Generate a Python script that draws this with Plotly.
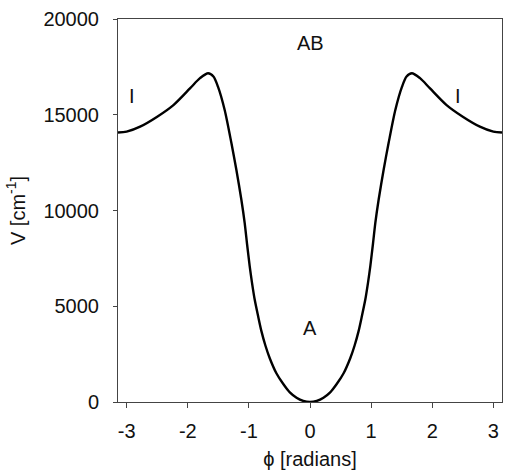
import plotly.graph_objects as go

# Data (phi in radians, V in cm^-1)
phi = [-3.1416, -3.0, -2.78, -2.5, -2.23, -1.96, -1.8, -1.667, -1.58, -1.506, -1.396,
       -1.286, -1.205, -1.123, -1.069, -1.03, -0.987, -0.95, -0.905, -0.85, -0.795,
       -0.73, -0.66, -0.55, -0.44, -0.33, -0.22, -0.11,
       0.0,
       0.11, 0.22, 0.33, 0.44, 0.55, 0.66, 0.73,
       0.795, 0.85, 0.905, 0.95, 0.987, 1.03, 1.069, 1.123, 1.205, 1.286,
       1.396, 1.506, 1.58, 1.667, 1.8, 1.96, 2.23, 2.5, 2.78, 3.0, 3.1416]
V = [14070, 14120, 14380, 14900, 15520, 16390, 16910, 17170, 17000, 16470, 15250,
     13520, 12130, 10560, 9350, 8250, 7100, 6250, 5350, 4500, 3700,
     2950, 2300, 1500, 950, 500, 220, 55,
     0,
     55, 220, 500, 950, 1500, 2300, 2950,
     3700, 4500, 5350, 6250, 7100, 8250, 9350, 10560, 12130, 13520,
     15250, 16470, 17000, 17170, 16910, 16390, 15520, 14900, 14380, 14120, 14070]

x_tick_vals = [-3, -2, -1, 0, 1, 2, 3]
x_tick_text = ["-3", "-2", "-1", "0", "1", "2", "3"]
y_tick_vals = [0, 5000, 10000, 15000, 20000]
y_tick_text = ["0", "5000", "10000", "15000", "20000"]

labels = ["AB", "I", "I", "A"]
label_x = [0.0, -2.92, 2.42, 0.0]
label_y = [18750, 16000, 16000, 3870]

FONT = "Liberation Sans, Arial, Helvetica, sans-serif"
AX = "#444444"
FS = 20

fig = go.Figure()
fig.add_trace(go.Scatter(x=phi, y=V, mode="lines",
                         line=dict(color="black", width=2.4, shape="spline", smoothing=0.8),
                         hoverinfo="skip", showlegend=False))

for t, x, y in zip(labels, label_x, label_y):
    fig.add_annotation(x=x, y=y, text=t, showarrow=False,
                       font=dict(family=FONT, size=FS, color="#111111"))

fig.update_layout(
    width=505, height=476,
    margin=dict(l=118, r=3, t=19, b=74),
    paper_bgcolor="white", plot_bgcolor="white",
    font=dict(family=FONT, size=FS, color="#111111"),
    showlegend=False,
)
fig.update_xaxes(range=[-3.1416, 3.1416], tickmode="array", tickvals=x_tick_vals,
                 ticktext=x_tick_text, ticks="outside", ticklen=5, tickwidth=1,
                 tickcolor=AX, showline=True, linecolor=AX, linewidth=1, mirror=True,
                 showgrid=False, zeroline=False, ticklabelstandoff=6,
                 tickfont=dict(family=FONT, size=FS, color="#111111"),
                 title=dict(text="ϕ [radians]", standoff=10,
                            font=dict(family=FONT, size=FS, color="#111111")))
fig.update_yaxes(range=[0, 20000], tickmode="array", tickvals=y_tick_vals,
                 ticktext=y_tick_text, ticks="outside", ticklen=4, tickwidth=1,
                 tickcolor=AX, showline=True, linecolor=AX, linewidth=1, mirror=True,
                 showgrid=False, zeroline=False, ticklabelstandoff=10,
                 tickfont=dict(family=FONT, size=FS, color="#111111"),
                 title=dict(text="V [cm<sup>-1</sup>]", standoff=12,
                            font=dict(family=FONT, size=FS, color="#111111")))

fig.write_html("out.html")
